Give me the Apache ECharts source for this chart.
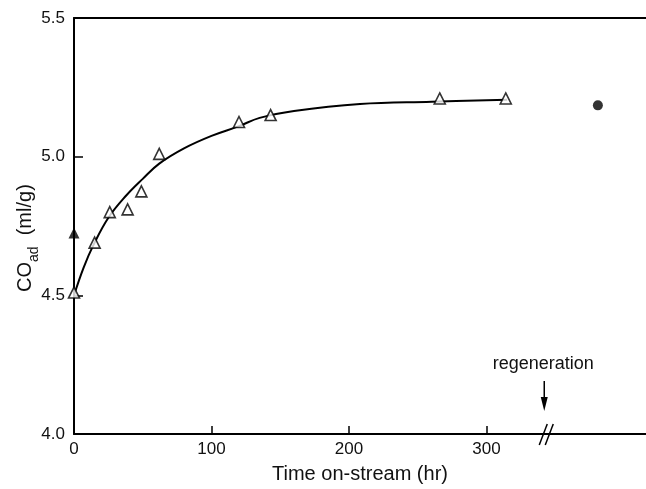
<!DOCTYPE html>
<html><head><meta charset="utf-8">
<script src="https://cdn.jsdelivr.net/npm/echarts@6/dist/echarts.min.js"></script>
<style>html,body{margin:0;padding:0;background:#fff}#c{width:646px;height:489px}</style>
</head><body><div id="c"></div>
<script>
// Data
const openTimes = [0, 15, 26, 39, 49, 62, 120, 143, 266, 314];
const openCO    = [4.51, 4.69, 4.80, 4.81, 4.875, 5.01, 5.125, 5.15, 5.21, 5.21];
const freshCatalyst = [[0, 4.725]];          // filled triangle
const regenerated   = [[381, 5.185]];        // filled circle after regeneration
const curveTimes = [0, 7, 14, 25, 38, 50, 62, 80, 100, 120, 135, 160, 208, 260, 315];
const curveCO    = [4.50, 4.60, 4.68, 4.78, 4.86, 4.92, 4.975, 5.03, 5.075, 5.11, 5.14, 5.165, 5.19, 5.198, 5.205];
const xTicks = [0, 100, 200, 300];
const yTicks = [4.0, 4.5, 5.0, 5.5];
const regenX = 342;

const FONT = 'Liberation Sans, Arial, Helvetica, sans-serif';
const chart = echarts.init(document.getElementById('c'), null, {renderer: 'canvas'});
const zip = (a, b) => a.map((v, i) => [v, b[i]]);

chart.setOption({
  animation: false,
  backgroundColor: '#fff',
  grid: {left: 74, top: 18, right: 0, bottom: 51, containLabel: false},
  xAxis: [{
    type: 'value', min: 0, max: 416, interval: 100,
    axisLine: {show: true, onZero: false, lineStyle: {color: '#000', width: 2}},
    axisTick: {show: true, inside: true, length: 8, customValues: xTicks, lineStyle: {color: '#000', width: 1.5}},
    axisLabel: {show: true, customValues: xTicks, margin: 7, fontSize: 17, color: '#111', fontFamily: FONT,
      formatter: v => String(v)},
    splitLine: {show: false},
    name: 'Time on-stream (hr)', nameLocation: 'middle', nameGap: 30,
    nameTextStyle: {fontSize: 20, color: '#111', fontFamily: FONT, padding: [0, 0, 0, 0]}
  }, {
    type: 'value', min: 0, max: 416, position: 'top',
    axisLine: {show: true, onZero: false, lineStyle: {color: '#000', width: 2}},
    axisTick: {show: false}, axisLabel: {show: false}, splitLine: {show: false}
  }],
  yAxis: {
    type: 'value', min: 4.0, max: 5.5, interval: 0.5,
    axisLine: {show: true, onZero: false, lineStyle: {color: '#000', width: 2}},
    axisTick: {show: true, inside: true, length: 9, customValues: yTicks, lineStyle: {color: '#000', width: 1.5}},
    axisLabel: {customValues: yTicks, margin: 9, fontSize: 17, color: '#111', fontFamily: FONT,
      formatter: v => v.toFixed(1)},
    splitLine: {show: false}
  },
  series: [{
    type: 'line', data: zip(curveTimes, curveCO), smooth: 0.4, showSymbol: false, symbol: 'none',
    lineStyle: {color: '#000', width: 2}, clip: false, z: 2
  }, {
    type: 'scatter', data: zip(openTimes, openCO), symbol: 'triangle', symbolSize: 11,
    itemStyle: {color: '#fff', borderColor: '#000', borderWidth: 1.6}, clip: false, z: 3
  }, {
    type: 'scatter', data: freshCatalyst, symbol: 'triangle', symbolSize: 11,
    itemStyle: {color: '#000'}, clip: false, z: 3
  }, {
    type: 'scatter', data: regenerated, symbol: 'circle', symbolSize: 10,
    itemStyle: {color: '#000'}, clip: false, z: 3
  }]
});

const p = chart.convertToPixel({gridIndex: 0}, [regenX, 4.0]);
const bx = p[0], by = p[1];
chart.setOption({
  graphic: [
    {type: 'text', x: 11, y: 292, rotation: Math.PI / 2,
      style: {text: '{a|CO}{b|ad}{a|  (ml/g)}', fill: '#111',
        rich: {a: {fontSize: 20, fontFamily: FONT, fill: '#111', lineHeight: 24, verticalAlign: 'bottom'},
               b: {fontSize: 14, fontFamily: FONT, fill: '#111', lineHeight: 24, verticalAlign: 'bottom', padding: [0, 0, -6, 0]}}}},
    {type: 'text', x: bx - 1, y: by - 70, style: {text: 'regeneration', font: '18px ' + FONT, fill: '#111', textAlign: 'center', textVerticalAlign: 'middle'}},
    {type: 'line', shape: {x1: bx, y1: by - 53, x2: bx, y2: by - 33}, style: {stroke: '#000', lineWidth: 1.5}},
    {type: 'polygon', shape: {points: [[bx - 3.5, by - 37], [bx + 3.5, by - 37], [bx, by - 23]]}, style: {fill: '#000'}},
    {type: 'rect', shape: {x: bx - 1, y: by - 4, width: 9, height: 8}, style: {fill: '#fff'}},
    {type: 'line', shape: {x1: bx - 5, y1: by + 11, x2: bx + 3, y2: by - 10}, style: {stroke: '#000', lineWidth: 1.5}},
    {type: 'line', shape: {x1: bx + 1, y1: by + 11, x2: bx + 9, y2: by - 10}, style: {stroke: '#000', lineWidth: 1.5}}
  ]
});
</script>
</body></html>
